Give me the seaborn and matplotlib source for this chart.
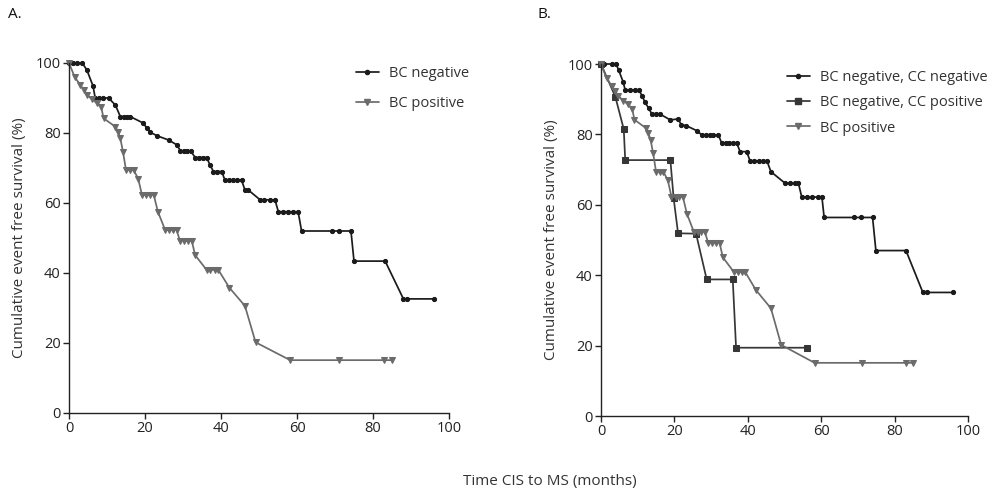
import numpy as np
import pandas as pd
import matplotlib
matplotlib.use("Agg")
import matplotlib.pyplot as plt
import seaborn as sns
from matplotlib.lines import Line2D

# ---------------- data ----------------
# Panel A: BC negative
neg_x = [0, 1, 2, 3.5, 4.7, 6.3, 6.9, 8, 9, 10.4, 12.2, 13.5, 14.5, 15.3, 16.1, 19.6, 20.5,
         21.4, 23.2, 26.2, 28.4, 29.3, 30.2, 31, 32, 33.2, 34.2, 35.2, 36.2, 37.1, 38, 39,
         40.2, 41, 42.1, 43.2, 44.3, 45.4, 46.3, 47.2, 50.3, 51.3, 53, 54.2, 55.1, 56.2,
         57.5, 59, 60.3, 61.2, 69.2, 71, 74.2, 75, 83.2, 88, 89, 96]
neg_y = [100, 100, 100, 100, 98, 93.5, 90, 90, 90, 90, 88, 84.7, 84.7, 84.7, 84.7, 82.8, 81.3,
         80.2, 79.2, 78, 76.6, 74.9, 74.9, 74.9, 74.9, 73, 73, 73, 73, 70.9, 69, 69,
         69, 66.6, 66.6, 66.6, 66.6, 66.6, 63.7, 63.7, 60.9, 60.9, 60.9, 60.9, 57.5, 57.5,
         57.5, 57.5, 57.5, 52, 52, 52, 52, 43.4, 43.4, 32.6, 32.6, 32.6]

# BC positive (both panels)
pos_x = [0, 1.5, 3, 3.9, 4.7, 6.1, 7.4, 8.5, 9.1, 12.2, 12.9, 13.5, 14.2, 15, 16, 17, 18.2,
         19.2, 20.3, 21.3, 22.3, 23.4, 25.3, 26.3, 27.3, 28.3, 29.2, 30.2, 31.2, 32.3, 33.2,
         36.2, 37.2, 38.3, 39.3, 42.2, 46.3, 49.1, 58.2, 71, 83, 85.1]
pos_y = [100, 96, 93.7, 92.3, 90.9, 89.6, 88.5, 87.3, 84.2, 81.8, 80.4, 78.5, 74.7, 69.4, 69.4,
         69.4, 67, 62.3, 62.3, 62.3, 62.3, 57.5, 52.3, 52.3, 52.3, 52.3, 49.2, 49.2, 49.2,
         49.2, 45.1, 40.9, 40.9, 40.9, 40.9, 35.8, 30.6, 20.2, 15.1, 15.1, 15.1, 15.1]

# Panel B: BC negative, CC negative
nn_x = [0, 0.7, 3, 4.1, 4.8, 6, 6.6, 8, 9.2, 10.3, 11.2, 11.9, 13, 13.9, 15, 16.2, 18.9,
        21, 21.9, 23.2, 26.2, 27.5, 28.6, 29.6, 30.6, 32, 32.9, 34, 35, 36, 37, 37.9, 39.7,
        40.6, 41.8, 43, 44.2, 45.2, 46.3, 50.2, 51.5, 52.8, 53.8, 54.7, 56, 57.5, 59, 60.2,
        60.8, 69, 70.9, 74, 74.9, 83.1, 87.7, 88.8, 95.9]
nn_y = [100, 100, 100, 100, 98.3, 95, 92.6, 92.6, 92.6, 92.6, 91, 89.3, 87.4, 85.7, 85.7, 85.7, 84.1,
        84.4, 82.7, 82.5, 81, 79.8, 79.8, 79.8, 79.8, 79.8, 77.5, 77.5, 77.5, 77.5, 77.5, 75.1, 75.1,
        72.5, 72.5, 72.5, 72.5, 72.5, 69.4, 66.1, 66.1, 66.1, 66.1, 62.2, 62.2, 62.2, 62.2, 62.2,
        56.4, 56.4, 56.4, 56.4, 47, 47, 35.1, 35.1, 35.1]

# Panel B: BC negative, CC positive
np_x = [0, 3.9, 6.2, 6.6, 18.9, 19.8, 21, 25.9, 28.8, 35.9, 36.8, 56.1]
np_y = [100, 90.7, 81.5, 72.7, 72.7, 61.8, 51.9, 51.8, 38.8, 38.8, 19.4, 19.4]

ticks = [0, 20, 40, 60, 80, 100]
lab_A = ["BC negative", "BC positive"]
lab_B = ["BC negative, CC negative", "BC negative, CC positive", "BC positive"]

# ---------------- style ----------------
sns.set_theme(style="ticks")
plt.rcParams['font.family'] = ['Open Sans', 'DejaVu Sans']
plt.rcParams['axes.linewidth'] = 1.0

C_BLACK = "#1b1b1b"
C_SQ = "#363636"
C_GRAY = "#6b6b6b"
LW = 1.25

fig = plt.figure(figsize=(9.89, 4.91), dpi=100)
axA = fig.add_axes([69/989, 1-413/491, 380/989, 350/491])
axB = fig.add_axes([601/989, 1-416/491, 367/989, 352/491])


def draw(ax, x, y, color, marker, ms):
    df = pd.DataFrame({"x": x, "y": y})
    sns.lineplot(data=df, x="x", y="y", ax=ax, estimator=None, sort=False,
                 color=color, lw=LW, marker=marker, markersize=ms,
                 markeredgecolor=color, markerfacecolor=color, clip_on=False)


draw(axA, neg_x, neg_y, C_BLACK, "o", 3.0)
draw(axA, pos_x, pos_y, C_GRAY, "v", 5.0)

draw(axB, nn_x, nn_y, C_BLACK, "o", 3.0)
draw(axB, np_x, np_y, C_SQ, "s", 5.0)
draw(axB, pos_x, pos_y, C_GRAY, "v", 5.0)

for ax in (axA, axB):
    ax.set_xlim(0, 100)
    ax.set_ylim(0, 100)
    ax.set_xticks(ticks)
    ax.set_yticks(ticks)
    ax.tick_params(labelsize=10.5, length=4, width=1.0, color="#222222",
                   labelcolor="#222222", pad=2)
    sns.despine(ax=ax)
    ax.set_xlabel("")
    ax.set_ylabel("Cumulative event free survival (%)", fontsize=11, color="#333333",
                  labelpad=6)
    for s in ("left", "bottom"):
        ax.spines[s].set_color("#222222")

hA = [Line2D([], [], color=C_BLACK, lw=LW, marker="o", ms=3.0),
      Line2D([], [], color=C_GRAY, lw=LW, marker="v", ms=5.0)]
axA.legend(hA, lab_A, loc="upper left", bbox_to_anchor=(0.72, 1.028), frameon=False,
           fontsize=10.5, handlelength=1.6, handletextpad=0.7, labelspacing=1.0,
           labelcolor="#333333")

hB = [Line2D([], [], color=C_BLACK, lw=LW, marker="o", ms=3.0),
      Line2D([], [], color=C_SQ, lw=LW, marker="s", ms=5.0),
      Line2D([], [], color=C_GRAY, lw=LW, marker="v", ms=5.0)]
axB.legend(hB, lab_B, loc="upper left", bbox_to_anchor=(0.47, 1.02), frameon=False,
           fontsize=10.5, handlelength=1.6, handletextpad=0.7, labelspacing=0.7,
           labelcolor="#333333")

fig.text(0.0085, 0.985, "A.", fontsize=11, color="#111111", va="top")
fig.text(0.543, 0.985, "B.", fontsize=11, color="#111111", va="top")
fig.text(550/989, 1-481/491, "Time CIS to MS (months)", fontsize=11, color="#333333",
         ha="center", va="center")

fig.savefig("out.png", dpi=100)
